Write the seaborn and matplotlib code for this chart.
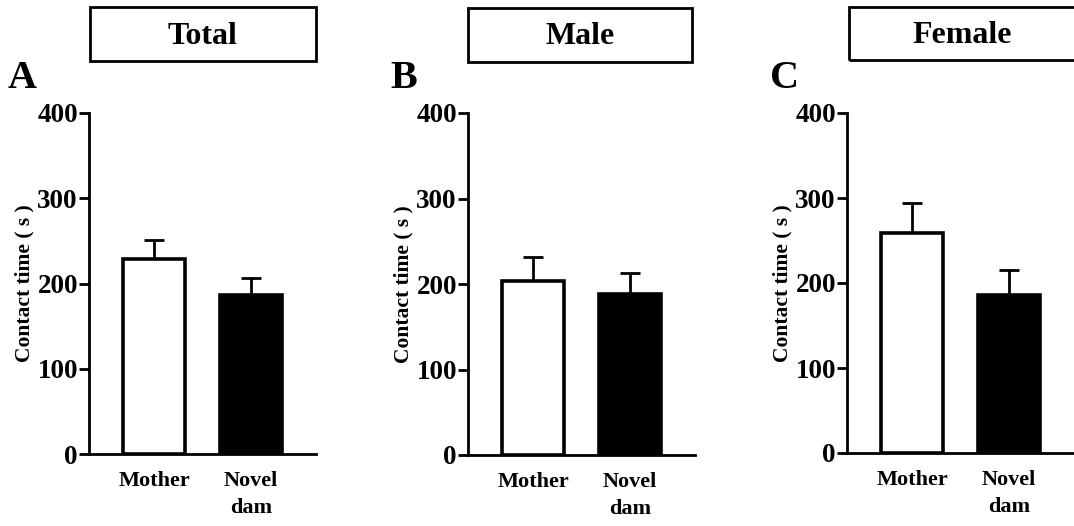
import matplotlib
matplotlib.use("Agg")
import matplotlib.pyplot as plt
from matplotlib.patches import Rectangle
import seaborn as sns
import pandas as pd

# Contact time (s), mean and SEM per group
groups = ["Mother", "Novel\ndam"]
total_mean = [229, 187]
total_sem = [22, 20]
male_mean = [204, 188]
male_sem = [28, 25]
female_mean = [259, 186]
female_sem = [35, 29]

panel_titles = ["Total", "Male", "Female"]
panel_letters = ["A", "B", "C"]
y_ticks = [0, 100, 200, 300, 400]
y_label = "Contact time ( s )"

sns.set_theme(style="ticks")
plt.rcParams["font.family"] = ["Liberation Serif", "DejaVu Serif"]
plt.rcParams["font.weight"] = "bold"
for key in ["text.color", "axes.labelcolor", "xtick.color", "ytick.color", "axes.edgecolor"]:
    plt.rcParams[key] = "black"

W, H = 1074, 526
fig = plt.figure(figsize=(W / 100, H / 100), dpi=100)

def fx(px):
    return px / W

def fy(py):
    return 1 - py / H

# axes placement in pixels: (left, top, bottom)
axes_px = [(89, 113, 454), (468, 113, 455), (847, 113, 453)]
# title boxes in pixels: (left, top, right, bottom); the last runs off the right edge
box_px = [(90, 7, 316, 61), (468, 8, 692, 62), (849, 7, 1090, 60)]
title_cx = [203, 580, 962]
letter_px = [(8, 88), (390, 88), (770, 88)]
xlim = (-0.67, 1.67)
unit_px = 97

panels = [(total_mean, total_sem), (male_mean, male_sem), (female_mean, female_sem)]

for i, (means, sems) in enumerate(panels):
    left, top, bottom = axes_px[i]
    width_px = (xlim[1] - xlim[0]) * unit_px
    ax = fig.add_axes([fx(left), fy(bottom), fx(width_px), (bottom - top) / H])
    df = pd.DataFrame({"group": groups, "mean": means, "sem": sems})
    ax.errorbar(range(len(groups)), df["mean"],
                yerr=[[0] * len(groups), df["sem"]],
                fmt="none", ecolor="black", elinewidth=2, capsize=7,
                capthick=2, zorder=1)
    sns.barplot(data=df, x="group", y="mean", hue="group",
                palette=["white", "black"], legend=False, width=0.64,
                edgecolor="black", linewidth=2.6, errorbar=None,
                ax=ax, zorder=2)
    for p in ax.patches:
        p.set_zorder(2)
    ax.set_xlim(*xlim)
    ax.set_ylim(0, 400)
    ax.set_yticks(y_ticks)
    ax.set_yticklabels([str(t) for t in y_ticks], fontsize=19.5, fontweight="bold")
    ax.set_xticks(range(len(groups)))
    ax.set_xticklabels(groups, fontsize=16, fontweight="bold", linespacing=1.5)
    ax.tick_params(axis="x", length=0, pad=12)
    ax.tick_params(axis="y", length=7, width=2, pad=1, direction="out")
    ax.set_xlabel("")
    ax.set_ylabel(y_label, fontsize=15.5, fontweight="bold", labelpad=2)
    for side in ["top", "right"]:
        ax.spines[side].set_visible(False)
    for side in ["left", "bottom"]:
        ax.spines[side].set_linewidth(2)
        ax.spines[side].set_color("black")
    ax.set_facecolor("none")

    # boxed panel title
    x0, y0, x1, y1 = box_px[i]
    fig.patches.append(Rectangle((fx(x0), fy(y1)), fx(x1 - x0), (y1 - y0) / H,
                                 transform=fig.transFigure, fill=False,
                                 edgecolor="black", linewidth=2))
    fig.text(fx(title_cx[i]), fy((y0 + y1) / 2 + 2), panel_titles[i],
             ha="center", va="center", fontsize=23, fontweight="bold")

    lx, ly = letter_px[i]
    fig.text(fx(lx), fy(ly), panel_letters[i], ha="left", va="baseline",
             fontsize=29, fontweight="bold")

fig.savefig("out.png", dpi=100, facecolor="white")
